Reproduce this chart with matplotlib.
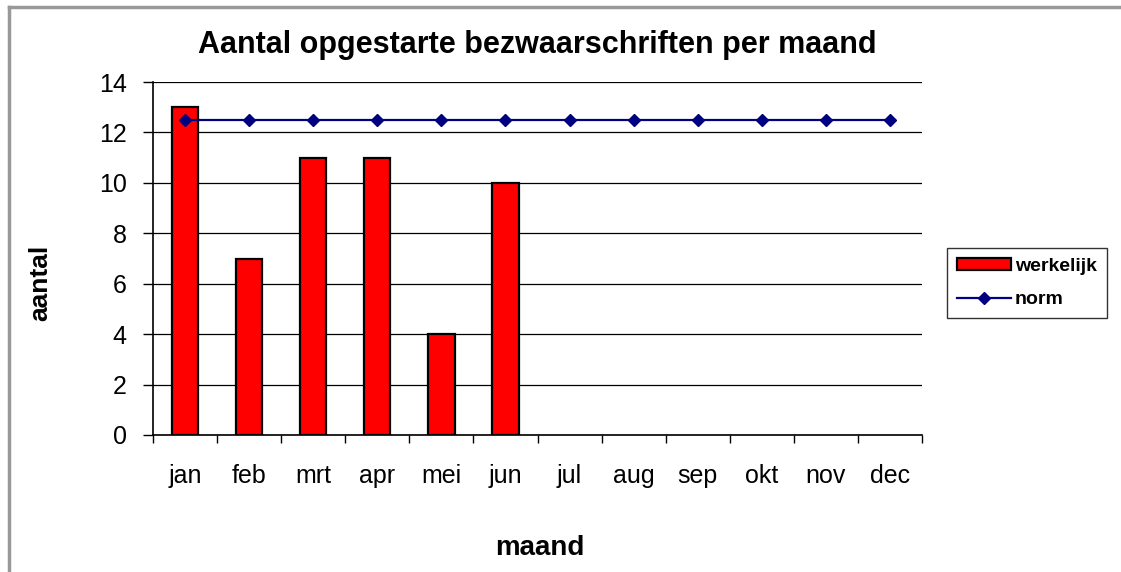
import numpy as np
import matplotlib.pyplot as plt
from matplotlib.lines import Line2D

plt.rcParams['font.family'] = ['Liberation Sans', 'DejaVu Sans']

maanden = ['jan', 'feb', 'mrt', 'apr', 'mei', 'jun', 'jul', 'aug', 'sep', 'okt', 'nov', 'dec']
werkelijk = [13, 7, 11, 11, 4, 10]  # only first half year filled in
norm = [12.5] * 12

W, H = 1121, 572
fig = plt.figure(figsize=(W / 100, H / 100), dpi=100)
ax = fig.add_axes([153 / W, 1 - 435 / H, (922 - 153) / W, (435 - 82) / H])

x = np.arange(len(maanden))
ax.bar(x[:len(werkelijk)], werkelijk, width=0.41, color='#ff0000', edgecolor='black',
       linewidth=1.6, zorder=3, label='werkelijk')
ax.plot(x, norm, color='#000080', marker='D', markersize=6.5, linewidth=1.6, zorder=4, label='norm')

ax.set_xlim(-0.5, 11.5)
ax.set_ylim(0, 14)
ax.set_yticks(range(0, 15, 2))
ax.yaxis.grid(True, color='black', linewidth=0.9, zorder=0)
ax.set_xticks(x)
ax.set_xticklabels(maanden, fontsize=18)
ax.set_xticks(np.arange(-0.5, 12, 1), minor=True)
ax.tick_params(axis='x', which='major', length=0, pad=21)
ax.tick_params(axis='x', which='minor', length=6, width=1, color='black', direction='out')
ax.tick_params(axis='y', labelsize=18, length=7, width=1, direction='out', pad=12)
for s in ['top', 'right']:
    ax.spines[s].set_visible(False)
for s in ['left', 'bottom']:
    ax.spines[s].set_linewidth(1.2)

ax.set_xlabel('maand', fontsize=20, fontweight='bold', va='center')
ax.xaxis.set_label_coords((540 - 153) / (922 - 153), (435 - 548) / (435 - 82))
ax.set_ylabel('aantal', fontsize=19, fontweight='bold', va='center')
ax.yaxis.set_label_coords((40 - 153) / (922 - 153), (435 - 283) / (435 - 82))
ax.set_title('Aantal opgestarte bezwaarschriften per maand', fontsize=22, fontweight='bold', pad=21)

handles = [plt.Rectangle((0, 0), 1, 1, facecolor='#ff0000', edgecolor='black', linewidth=1.6),
           Line2D([0], [0], color='#000080', marker='D', markersize=6.5, linewidth=1.6)]
leg = fig.legend(handles, ['werkelijk', 'norm'], loc='upper left',
                 bbox_to_anchor=(947 / W, 1 - 248 / H), fontsize=14, frameon=True,
                 fancybox=False, edgecolor='black', handlelength=2.8, handleheight=0.55,
                 borderpad=0.5, labelspacing=0.85, handletextpad=0.2, borderaxespad=0)
leg.get_frame().set_linewidth(1.0)
for t in leg.get_texts():
    t.set_fontweight('bold')

# grey outer chart border (only left/top visible in the crop)
fig.add_artist(Line2D([9 / W, 9 / W], [0, 1 - 7 / H], color='#999999', linewidth=2.5))
fig.add_artist(Line2D([9 / W, 1], [1 - 7 / H, 1 - 7 / H], color='#999999', linewidth=2.5))

fig.savefig('out.png', dpi=100)
